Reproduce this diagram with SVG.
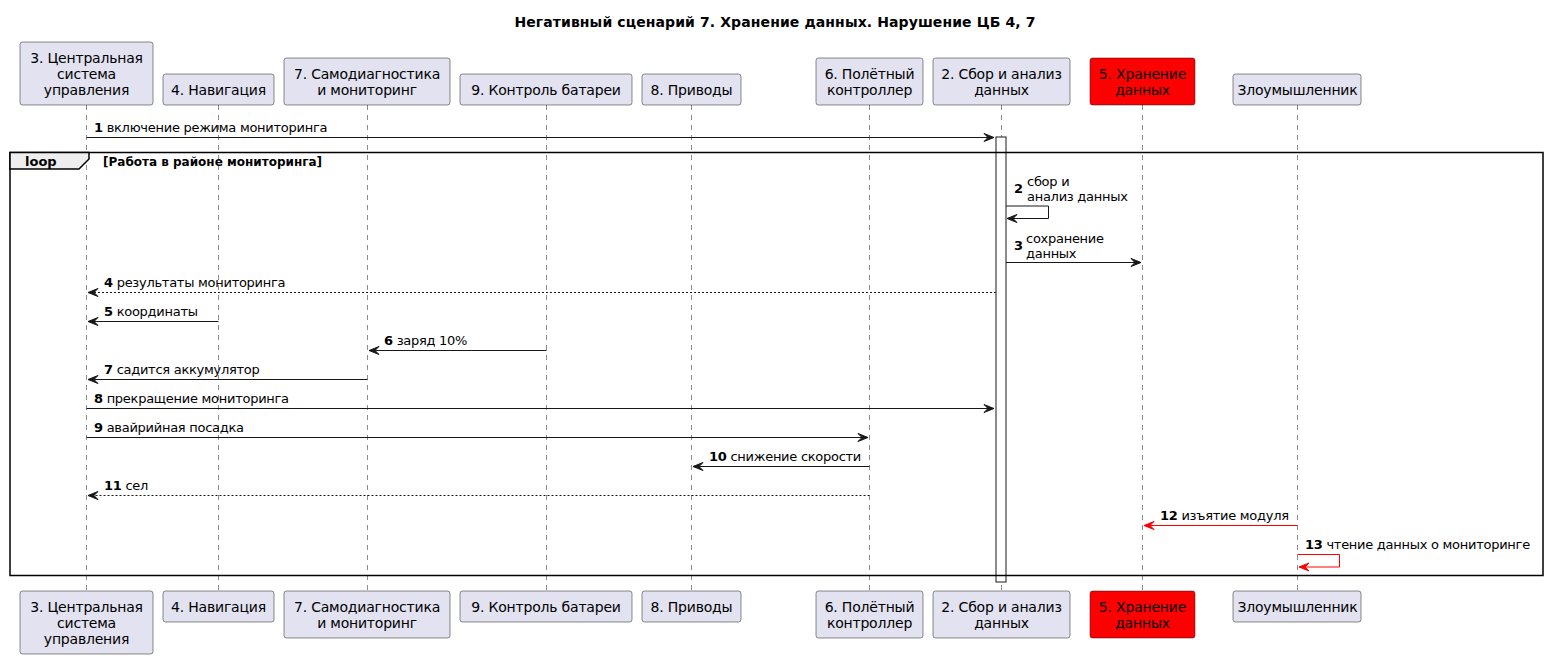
<svg xmlns="http://www.w3.org/2000/svg" width="1547" height="659" viewBox="0 0 1547 659">
<style>
text{font-family:"DejaVu Sans","Liberation Sans",sans-serif;font-size:13px;fill:#000}
.t{font-size:14px;font-weight:bold;letter-spacing:0.1px}
.pb{fill:#E2E2F0;stroke:#181818;stroke-width:0.5}
.red{fill:#FF0000;stroke:#181818;stroke-width:0.5}
.pt{text-anchor:middle;font-size:14px;letter-spacing:-0.2px}
.ll{stroke:#181818;stroke-width:0.5;stroke-dasharray:5,5;fill:none}
.m{stroke:#181818;stroke-width:1;fill:none}
.d{stroke:#181818;stroke-width:1;fill:none;stroke-dasharray:2,2}
.r{stroke:#FF0000;stroke-width:1;fill:none}
.ah{fill:#181818;stroke:#181818;stroke-width:1}
.ar{fill:#FF0000;stroke:#FF0000;stroke-width:1}
.b{font-weight:bold}
.ml{letter-spacing:-0.27px}
.g{font-size:12px;font-weight:bold}
</style>
<rect width="1547" height="659" fill="#FFFFFF"/>
<text class="t" x="775" y="27" text-anchor="middle">Негативный сценарий 7. Хранение данных. Нарушение ЦБ 4, 7</text>

<g id="lifelines">
<line class="ll" x1="86.5" y1="105" x2="86.5" y2="591"/>
<line class="ll" x1="218.5" y1="105" x2="218.5" y2="591"/>
<line class="ll" x1="367.5" y1="105" x2="367.5" y2="591"/>
<line class="ll" x1="546.5" y1="105" x2="546.5" y2="591"/>
<line class="ll" x1="691.5" y1="105" x2="691.5" y2="591"/>
<line class="ll" x1="869.5" y1="105" x2="869.5" y2="591"/>
<line class="ll" x1="1001.5" y1="105" x2="1001.5" y2="591"/>
<line class="ll" x1="1142.5" y1="105" x2="1142.5" y2="591"/>
<line class="ll" x1="1297.5" y1="105" x2="1297.5" y2="591"/>
</g>

<g id="p3">
<rect class="pb" x="20" y="42" width="133" height="63" rx="2.5"/>
<text class="pt" x="86.5" y="62.5">3. Центральная</text><text class="pt" x="86.5" y="78.5">система</text><text class="pt" x="86.5" y="94.5">управления</text>
<rect class="pb" x="20" y="591" width="133" height="63" rx="2.5"/>
<text class="pt" x="86.5" y="611.5">3. Центральная</text><text class="pt" x="86.5" y="627.5">система</text><text class="pt" x="86.5" y="643.5">управления</text>
</g>
<g id="p4">
<rect class="pb" x="163" y="74" width="111" height="31" rx="2.5"/>
<text class="pt" x="218.5" y="94.5">4. Навигация</text>
<rect class="pb" x="163" y="591" width="111" height="31" rx="2.5"/>
<text class="pt" x="218.5" y="611.5">4. Навигация</text>
</g>
<g id="p7">
<rect class="pb" x="284" y="58" width="166" height="47" rx="2.5"/>
<text class="pt" x="367" y="78.5">7. Самодиагностика</text><text class="pt" x="367" y="94.5">и мониторинг</text>
<rect class="pb" x="284" y="591" width="166" height="47" rx="2.5"/>
<text class="pt" x="367" y="611.5">7. Самодиагностика</text><text class="pt" x="367" y="627.5">и мониторинг</text>
</g>
<g id="p9">
<rect class="pb" x="460" y="74" width="172" height="31" rx="2.5"/>
<text class="pt" x="546" y="94.5">9. Контроль батареи</text>
<rect class="pb" x="460" y="591" width="172" height="31" rx="2.5"/>
<text class="pt" x="546" y="611.5">9. Контроль батареи</text>
</g>
<g id="p8">
<rect class="pb" x="642" y="74" width="99" height="31" rx="2.5"/>
<text class="pt" x="691.5" y="94.5">8. Приводы</text>
<rect class="pb" x="642" y="591" width="99" height="31" rx="2.5"/>
<text class="pt" x="691.5" y="611.5">8. Приводы</text>
</g>
<g id="p6">
<rect class="pb" x="816" y="58" width="107" height="47" rx="2.5"/>
<text class="pt" x="869.5" y="78.5">6. Полётный</text><text class="pt" x="869.5" y="94.5">контроллер</text>
<rect class="pb" x="816" y="591" width="107" height="47" rx="2.5"/>
<text class="pt" x="869.5" y="611.5">6. Полётный</text><text class="pt" x="869.5" y="627.5">контроллер</text>
</g>
<g id="p2">
<rect class="pb" x="933" y="58" width="137" height="47" rx="2.5"/>
<text class="pt" x="1001.5" y="78.5">2. Сбор и анализ</text><text class="pt" x="1001.5" y="94.5">данных</text>
<rect class="pb" x="933" y="591" width="137" height="47" rx="2.5"/>
<text class="pt" x="1001.5" y="611.5">2. Сбор и анализ</text><text class="pt" x="1001.5" y="627.5">данных</text>
</g>
<g id="p5">
<rect class="red" x="1090" y="58" width="105" height="47" rx="2.5"/>
<text class="pt" x="1142.5" y="78.5">5. Хранение</text><text class="pt" x="1142.5" y="94.5">данных</text>
<rect class="red" x="1090" y="591" width="105" height="47" rx="2.5"/>
<text class="pt" x="1142.5" y="611.5">5. Хранение</text><text class="pt" x="1142.5" y="627.5">данных</text>
</g>
<g id="attacker">
<rect class="pb" x="1233" y="74" width="128" height="31" rx="2.5"/>
<text class="pt" x="1297.5" y="94.5">Злоумышленник</text>
<rect class="pb" x="1233" y="591" width="128" height="31" rx="2.5"/>
<text class="pt" x="1297.5" y="611.5">Злоумышленник</text>
</g>

<g id="activation">
<rect x="996" y="137" width="10" height="445" fill="#FFFFFF" stroke="#181818" stroke-width="1"/>
</g>

<g id="loop">
<rect x="10" y="152.5" width="1533" height="423" fill="none" stroke="#000" stroke-width="1.5"/>
<polygon points="10,152.5 89,152.5 89,159 79,169 10,169" fill="#EEEEEE" stroke="#000" stroke-width="1.5"/>
<text class="b" x="25" y="165.5">loop</text>
<text class="g" x="103" y="165.5">[Работа в районе мониторинга]</text>
</g>

<g id="connectors">
<line class="m" x1="86.5" y1="137.5" x2="994" y2="137.5"/>
<polygon class="ah" points="984,133.5 994,137.5 984,141.5 988,137.5"/>
<text class="ml" x="94" y="131.5"><tspan class="b">1</tspan> включение режима мониторинга</text>

<polyline class="m" points="1006,206 1048.5,206 1048.5,218.5 1007,218.5"/>
<polygon class="ah" points="1017,214.5 1007,218.5 1017,222.5 1013,218.5"/>
<text class="b" x="1014" y="193">2</text>
<text class="ml" x="1027" y="186">сбор и</text><text class="ml" x="1027" y="201">анализ данных</text>

<line class="m" x1="1006" y1="262.5" x2="1141" y2="262.5"/>
<polygon class="ah" points="1131,258.5 1141,262.5 1131,266.5 1135,262.5"/>
<text class="b" x="1014" y="250">3</text>
<text class="ml" x="1026" y="243">сохранение</text><text class="ml" x="1026" y="258">данных</text>

<line class="d" x1="996" y1="292.5" x2="88" y2="292.5"/>
<polygon class="ah" points="98,288.5 88,292.5 98,296.5 94,292.5"/>
<text class="ml" x="104" y="286.5"><tspan class="b">4</tspan> результаты мониторинга</text>

<line class="m" x1="218.5" y1="321.5" x2="88" y2="321.5"/>
<polygon class="ah" points="98,317.5 88,321.5 98,325.5 94,321.5"/>
<text class="ml" x="104" y="315.5"><tspan class="b">5</tspan> координаты</text>

<line class="m" x1="546.5" y1="350.5" x2="369" y2="350.5"/>
<polygon class="ah" points="379,346.5 369,350.5 379,354.5 375,350.5"/>
<text class="ml" x="384" y="344.5"><tspan class="b">6</tspan> заряд 10%</text>

<line class="m" x1="367.5" y1="379.5" x2="88" y2="379.5"/>
<polygon class="ah" points="98,375.5 88,379.5 98,383.5 94,379.5"/>
<text class="ml" x="104" y="373.5"><tspan class="b">7</tspan> садится аккумулятор</text>

<line class="m" x1="86.5" y1="408.5" x2="994" y2="408.5"/>
<polygon class="ah" points="984,404.5 994,408.5 984,412.5 988,408.5"/>
<text class="ml" x="94" y="402.5"><tspan class="b">8</tspan> прекращение мониторинга</text>

<line class="m" x1="86.5" y1="437.5" x2="868" y2="437.5"/>
<polygon class="ah" points="858,433.5 868,437.5 858,441.5 862,437.5"/>
<text class="ml" x="94" y="431.5"><tspan class="b">9</tspan> авайрийная посадка</text>

<line class="m" x1="869.5" y1="466.5" x2="693" y2="466.5"/>
<polygon class="ah" points="703,462.5 693,466.5 703,470.5 699,466.5"/>
<text class="ml" x="709" y="460.5"><tspan class="b">10</tspan> снижение скорости</text>

<line class="d" x1="869.5" y1="495.5" x2="88" y2="495.5"/>
<polygon class="ah" points="98,491.5 88,495.5 98,499.5 94,495.5"/>
<text class="ml" x="104" y="489.5"><tspan class="b">11</tspan> сел</text>

<line class="r" x1="1297.5" y1="525.5" x2="1144" y2="525.5"/>
<polygon class="ar" points="1154,521.5 1144,525.5 1154,529.5 1150,525.5"/>
<text class="ml" x="1160" y="519.5"><tspan class="b">12</tspan> изъятие модуля</text>

<polyline class="r" points="1297.5,554.5 1339.5,554.5 1339.5,567 1299,567"/>
<polygon class="ar" points="1309,563 1299,567 1309,571 1305,567"/>
<text class="ml" x="1305" y="548.5"><tspan class="b">13</tspan> чтение данных о мониторинге</text>
</g>
</svg>
